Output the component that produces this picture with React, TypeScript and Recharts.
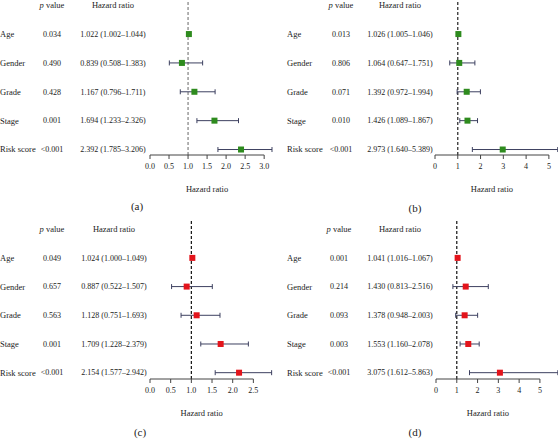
import { ScatterChart, Scatter, XAxis, YAxis, ErrorBar, ReferenceLine } from 'recharts';

const variables = ['Age', 'Gender', 'Grade', 'Stage', 'Risk score'];

// (a)
const pA = ['0.034', '0.490', '0.428', '0.001', '<0.001'];
const hrA = [1.022, 0.839, 1.167, 1.694, 2.392];
const lowA = [1.002, 0.508, 0.796, 1.233, 1.785];
const highA = [1.044, 1.383, 1.711, 2.326, 3.206];

// (b)
const pB = ['0.013', '0.806', '0.071', '0.010', '<0.001'];
const hrB = [1.026, 1.064, 1.392, 1.426, 2.973];
const lowB = [1.005, 0.647, 0.972, 1.089, 1.64];
const highB = [1.046, 1.751, 1.994, 1.867, 5.389];

// (c)
const pC = ['0.049', '0.657', '0.563', '0.001', '<0.001'];
const hrC = [1.024, 0.887, 1.128, 1.709, 2.154];
const lowC = [1.0, 0.522, 0.751, 1.228, 1.577];
const highC = [1.049, 1.507, 1.693, 2.379, 2.942];

// (d)
const pD = ['0.001', '0.214', '0.093', '0.003', '<0.001'];
const hrD = [1.041, 1.43, 1.378, 1.553, 3.075];
const lowD = [1.016, 0.813, 0.948, 1.16, 1.612];
const highD = [1.067, 2.516, 2.003, 2.078, 5.863];

const ticksA = [0, 0.5, 1, 1.5, 2, 2.5, 3];
const ticksB = [0, 1, 2, 3, 4, 5];
const ticksC = [0, 0.5, 1, 1.5, 2, 2.5];
const ticksD = [0, 1, 2, 3, 4, 5];

const FONT = "'Liberation Serif', 'DejaVu Serif', serif";
const TEXT = '#222';
const GREEN = '#2e8b1e';
const RED = '#e3141b';
const BAR = '#3d4060';

const fmt = (v: number) => v.toFixed(3);

const RowTick = (props: any) => {
  const { y, payload, cols, p, hr, low, high } = props;
  const i = payload.value;
  if (i < 0) {
    return (
      <g style={{ fill: TEXT }} fontSize={8.5}>
        <text x={cols.p} y={y} dy="0.35em" textAnchor="middle">
          <tspan fontStyle="italic">p</tspan> value
        </text>
        <text x={cols.hr} y={y} dy="0.35em" textAnchor="middle">Hazard ratio</text>
      </g>
    );
  }
  return (
    <g style={{ fill: TEXT }}>
      <text x={cols.label} y={y} dy="0.35em" fontSize={8.5}>{variables[i]}</text>
      <text x={cols.p} y={y} dy="0.35em" textAnchor="middle" fontSize={8}>{p[i]}</text>
      <text x={cols.hr} y={y} dy="0.35em" textAnchor="middle" fontSize={8}>
        {`${fmt(hr[i])} (${fmt(low[i])}–${fmt(high[i])})`}
      </text>
    </g>
  );
};

const ValueTick = (props: any) => {
  const { x, y, payload, digits } = props;
  return (
    <text x={x} y={y} dy="0.71em" textAnchor="middle" fontSize={8} style={{ fill: TEXT, stroke: 'none' }}>
      {Number(payload.value).toFixed(digits)}
    </text>
  );
};

const Panel = (props: any) => {
  const { left, top, width, height, bottom, p, hr, low, high, color, refColor, ticks, digits, xMax, yDomain, yWidth, cols, caption, captionX, captionY } = props;
  const data = hr.map((v: number, i: number) => ({ row: i, hr: v, ci: [v - low[i], high[i] - v] }));
  return (
    <div style={{ position: 'absolute', left, top, width, height }}>
      <ScatterChart width={width} height={height} margin={{ top: 0, right: 0, bottom, left: 0 }}>
        <XAxis
          type="number"
          dataKey="hr"
          domain={[0, xMax]}
          ticks={ticks}
          interval={0}
          axisLine={false}
          stroke="#444"
          tickLine={{ stroke: '#444' }}
          tickSize={4}
          tickMargin={4}
          height={30}
          tick={(t: any) => <ValueTick {...t} digits={digits} />}
        />
        <YAxis
          type="number"
          dataKey="row"
          reversed
          domain={yDomain}
          ticks={[-1, 0, 1, 2, 3, 4]}
          interval={0}
          axisLine={false}
          tickLine={false}
          width={yWidth}
          tick={(t: any) => <RowTick {...t} cols={cols} p={p} hr={hr} low={low} high={high} />}
        />
        <ReferenceLine x={1} stroke={refColor} strokeWidth={1.2} strokeDasharray="3 2" />
        <ReferenceLine
          segment={[{ x: 0, y: yDomain[1] }, { x: ticks[ticks.length - 1], y: yDomain[1] }]}
          stroke="#444"
          strokeWidth={1}
          label={{ value: 'Hazard ratio', position: 'bottom', offset: 31, fontSize: 8.5, fill: TEXT }}
        />
        <Scatter
          data={data}
          isAnimationActive={false}
          fill={color}
          shape={(s: any) => <rect x={s.cx - 3} y={s.cy - 3} width={6} height={6} fill={color} />}
        >
          <ErrorBar dataKey="ci" direction="x" width={2.5} stroke={BAR} strokeWidth={1} />
        </Scatter>
      </ScatterChart>
      <div style={{ position: 'absolute', left: captionX - 20, top: captionY - 7, width: 40, textAlign: 'center', fontSize: 11, lineHeight: '14px', color: TEXT }}>
        {caption}
      </div>
    </div>
  );
};

export default function App() {
  return (
    <div style={{ position: 'absolute', left: 0, top: 0, width: 558, height: 439, background: '#fff', fontFamily: FONT, overflow: 'hidden' }}>
      <Panel left={0} top={0} width={279} height={220} bottom={35} p={pA} hr={hrA} low={lowA} high={highA}
        color={GREEN} refColor="#808080" ticks={ticksA} digits={1} xMax={3.39} yDomain={[-1.18, 4.19]} yWidth={150}
        cols={{ label: 0, p: 52, hr: 113 }} caption="(a)" captionX={137} captionY={206} />
      <Panel left={280} top={0} width={278} height={220} bottom={35} p={pB} hr={hrB} low={lowB} high={highB}
        color={GREEN} refColor="#222" ticks={ticksB} digits={0} xMax={5.4} yDomain={[-1.18, 4.19]} yWidth={155}
        cols={{ label: 7, p: 61, hr: 120 }} caption="(b)" captionX={135} captionY={208} />
      <Panel left={0} top={220} width={279} height={219} bottom={30} p={pC} hr={hrC} low={lowC} high={highC}
        color={RED} refColor="#111" ticks={ticksC} digits={1} xMax={3.12} yDomain={[-1.32, 4.22]} yWidth={150}
        cols={{ label: 0, p: 52, hr: 114 }} caption="(c)" captionX={140} captionY={212} />
      <Panel left={280} top={220} width={278} height={219} bottom={30} p={pD} hr={hrD} low={lowD} high={highD}
        color={RED} refColor="#111" ticks={ticksD} digits={0} xMax={5.87} yDomain={[-1.32, 4.22]} yWidth={156}
        cols={{ label: 7, p: 59, hr: 120 }} caption="(d)" captionX={135} captionY={212} />
    </div>
  );
}
